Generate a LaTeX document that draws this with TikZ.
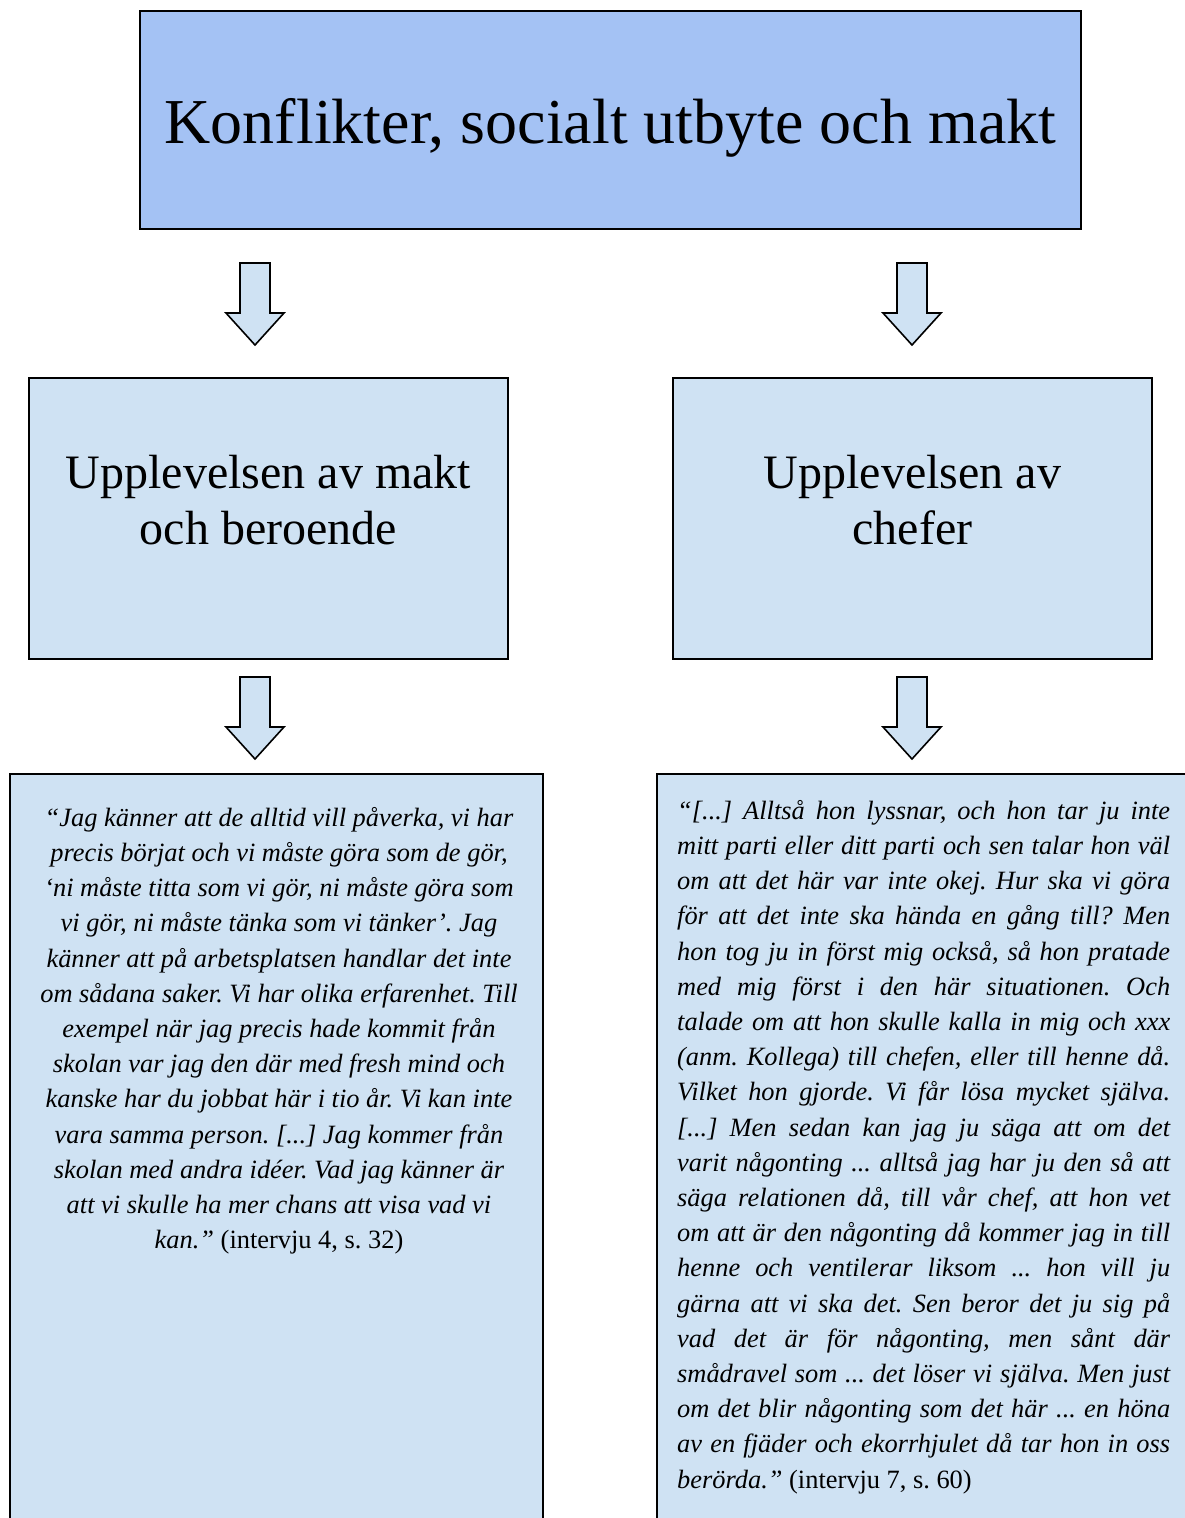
\documentclass[tikz,border=0pt]{standalone}
\usepackage{fontspec}
\setmainfont{Liberation Serif}
\frenchspacing
\definecolor{topblue}{RGB}{164,194,244}
\definecolor{lightblue}{RGB}{207,226,243}
\newcommand{\jl}[1]{\makebox[493pt][s]{#1}}
\begin{document}
\begin{tikzpicture}[x=1pt,y=-1pt,
  boxstyle/.style={draw=black,line width=1.6pt},
  downarrow/.style={draw=black,line width=1.6pt,fill=lightblue,line join=miter},
  headtext/.style={inner sep=0pt,align=center,font=\fontsize{48pt}{56pt}\selectfont},
  quotetext/.style={inner sep=0pt,font=\fontsize{26.4pt}{35.2pt}\selectfont\itshape\frenchspacing}]
\useasboundingbox (0,0) rectangle (1184,1518);
% boxes
\draw[boxstyle,fill=topblue] (140,11) rectangle (1081,229);
\node[inner sep=0pt,font=\fontsize{64pt}{72pt}\selectfont] (title) at (610.5,128) {Konflikter, socialt utbyte och makt};
\draw[boxstyle,fill=lightblue] (29,378) rectangle (508,659);
\draw[boxstyle,fill=lightblue] (673,378) rectangle (1152,659);
\node[headtext] (mleft) at (268.5,500) {Upplevelsen av makt\\och beroende};
\node[headtext] (mright) at (912.5,500) {Upplevelsen av\\chefer};
\draw[boxstyle,fill=lightblue] (10,774) rectangle (543,1540);
\draw[boxstyle,fill=lightblue] (657,774) rectangle (1200,1540);
% arrows
\foreach \cx/\ty in {255/263,912/263,255/677,912/677}{
  \draw[downarrow] (\cx-15,\ty) -- (\cx+15,\ty) -- (\cx+15,\ty+50) -- (\cx+29,\ty+50)
    -- (\cx,\ty+82) -- (\cx-29,\ty+50) -- (\cx-15,\ty+50) -- cycle;
}
% quotes
\node[quotetext,align=center,anchor=north] (qleft) at (279,807) {%
“Jag känner att de alltid vill påverka, vi har\\
precis börjat och vi måste göra som de gör,\\
‘ni måste titta som vi gör, ni måste göra som\\
vi gör, ni måste tänka som vi tänker’. Jag\\
känner att på arbetsplatsen handlar det inte\\
om sådana saker. Vi har olika erfarenhet. Till\\
exempel när jag precis hade kommit från\\
skolan var jag den där med fresh mind och\\
kanske har du jobbat här i tio år. Vi kan inte\\
vara samma person. [...] Jag kommer från\\
skolan med andra idéer. Vad jag känner är\\
att vi skulle ha mer chans att visa vad vi\\
kan.” \upshape(intervju 4, s. 32)};
\node[quotetext,align=left,anchor=north west] (qright) at (677,800) {%
\jl{“[...] Alltså hon lyssnar, och hon tar ju inte}\\
\jl{mitt parti eller ditt parti och sen talar hon väl}\\
\jl{om att det här var inte okej. Hur ska vi göra}\\
\jl{för att det inte ska hända en gång till? Men}\\
\jl{hon tog ju in först mig också, så hon pratade}\\
\jl{med mig först i den här situationen. Och}\\
\jl{talade om att hon skulle kalla in mig och xxx}\\
\jl{(anm. Kollega) till chefen, eller till henne då.}\\
\jl{Vilket hon gjorde. Vi får lösa mycket själva.}\\
\jl{[...] Men sedan kan jag ju säga att om det}\\
\jl{varit någonting ... alltså jag har ju den så att}\\
\jl{säga relationen då, till vår chef, att hon vet}\\
\jl{om att är den någonting då kommer jag in till}\\
\jl{henne och ventilerar liksom ... hon vill ju}\\
\jl{gärna att vi ska det. Sen beror det ju sig på}\\
\jl{vad det är för någonting, men sånt där}\\
\jl{smådravel som ... det löser vi själva. Men just}\\
\jl{om det blir någonting som det här ... en höna}\\
\jl{av en fjäder och ekorrhjulet då tar hon in oss}\\
berörda.” \upshape(intervju 7, s. 60)};
\end{tikzpicture}
\end{document}
